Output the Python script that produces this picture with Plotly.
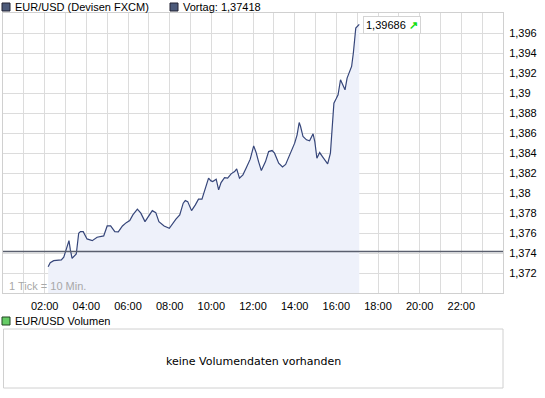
import plotly.graph_objects as go

# ---------------- data ----------------
base_date = "2024-01-01"
times = ["02:10", "02:16", "02:26", "02:48", "02:55", "03:02", "03:10", "03:14", "03:19", "03:31",
         "03:38", "03:43", "03:51", "04:02", "04:17", "04:31", "04:50", "05:00", "05:10", "05:22",
         "05:32", "05:44", "05:55", "06:05", "06:14", "06:27", "06:37", "06:49", "07:01", "07:10",
         "07:20", "07:29", "07:44", "07:59", "08:18", "08:29", "08:39", "08:45", "08:52", "09:03",
         "09:14", "09:23", "09:33", "09:42", "09:52", "09:59", "10:04", "10:14", "10:21", "10:28",
         "10:38", "10:47", "10:57", "11:07", "11:13", "11:21", "11:31", "11:40", "11:52", "12:02",
         "12:09", "12:16", "12:24", "12:36", "12:45", "12:55", "13:02", "13:14", "13:25", "13:34",
         "13:46", "14:00", "14:07", "14:13", "14:17", "14:24", "14:34", "14:43", "14:53", "14:58",
         "15:04", "15:12", "15:20", "15:35", "15:43", "15:48", "15:53", "15:59", "16:05", "16:12",
         "16:18", "16:25", "16:31", "16:39", "16:44", "16:49", "16:56", "17:06"]
prices = [1.37266, 1.37306, 1.37326, 1.37333, 1.37360, 1.37450, 1.37526, 1.37433, 1.37350, 1.37393,
          1.37600, 1.37616, 1.37616, 1.37543, 1.37526, 1.37560, 1.37573, 1.37673, 1.37673, 1.37616,
          1.37613, 1.37673, 1.37706, 1.37726, 1.37783, 1.37840, 1.37800, 1.37716, 1.37783, 1.37826,
          1.37806, 1.37716, 1.37673, 1.37650, 1.37740, 1.37783, 1.37900, 1.37926, 1.37916, 1.37826,
          1.37883, 1.37940, 1.37940, 1.38033, 1.38150, 1.38123, 1.38116, 1.38140, 1.38033, 1.38106,
          1.38156, 1.38150, 1.38193, 1.38216, 1.38243, 1.38150, 1.38183, 1.38250, 1.38340, 1.38473,
          1.38406, 1.38316, 1.38226, 1.38316, 1.38416, 1.38426, 1.38400, 1.38300, 1.38263, 1.38288,
          1.38383, 1.38500, 1.38583, 1.38706, 1.38666, 1.38566, 1.38533, 1.38523, 1.38593, 1.38516,
          1.38350, 1.38406, 1.38366, 1.38293, 1.38400, 1.38650, 1.38900, 1.38940, 1.38983, 1.39133,
          1.39093, 1.39033, 1.39150, 1.39223, 1.39266, 1.39400, 1.39650, 1.39686]
previous_close = 1.37418
last_label = "1,39686"

x_tick_labels = ["02:00", "04:00", "06:00", "08:00", "10:00", "12:00",
                 "14:00", "16:00", "18:00", "20:00", "22:00"]
y_tick_values = [1.372, 1.374, 1.376, 1.378, 1.380, 1.382, 1.384,
                 1.386, 1.388, 1.390, 1.392, 1.394, 1.396]
y_tick_labels = ["1,372", "1,374", "1,376", "1,378", "1,38", "1,382", "1,384",
                 "1,386", "1,388", "1,39", "1,392", "1,394", "1,396"]
y_range = [1.370, 1.398]

legend_main = "EUR/USD (Devisen FXCM)"
legend_prev = "Vortag: 1,37418"
legend_vol = "EUR/USD Volumen"
no_volume_text = "keine Volumendaten vorhanden"
tick_note = "1 Tick = 10 Min."

# ---------------- layout helpers ----------------
W, H = 545, 398
ML, MR, MT, MB = 3, 42, 13, 10
PW, PH = W - ML - MR, H - MT - MB


def px(xp):
    return (xp - ML) / PW


def py(yp):
    return (H - MB - yp) / PH


FONT = "Liberation Sans, Arial, sans-serif"
GRID = "#dcdcdc"
BORDER = "#d0d0d0"
LINE = "#36467a"

x_vals = [f"{base_date} {t}" for t in times]

fig = go.Figure()
fig.add_trace(go.Scatter(
    x=x_vals, y=prices, mode="lines",
    line=dict(color=LINE, width=1.2),
    fill="tozeroy", fillcolor="#eef1fa",
    hoverinfo="skip", showlegend=False,
))

fig.update_layout(
    width=W, height=H,
    margin=dict(l=ML, r=MR, t=MT, b=MB, pad=0, autoexpand=False),
    paper_bgcolor="white", plot_bgcolor="white",
    font=dict(family=FONT, size=11, color="#000000"),
    showlegend=False,
    xaxis=dict(
        type="date",
        range=[f"{base_date} 00:00", "2024-01-02 00:00"],
        tickvals=[f"{base_date} {t}" for t in x_tick_labels],
        ticktext=x_tick_labels,
        showgrid=True, gridcolor=GRID, gridwidth=1,
        minor=dict(dtick=3600000, tick0=f"{base_date} 00:00", showgrid=True,
                   gridcolor=GRID, gridwidth=1, ticks=""),
        showline=True, linecolor=BORDER, linewidth=1, mirror=True,
        ticks="", ticklabelstandoff=2,
        tickfont=dict(size=11, color="#000000"),
        zeroline=False, fixedrange=True, automargin=False,
        anchor="y",
    ),
    yaxis=dict(
        domain=[py(293.3), 1],
        range=y_range,
        side="right",
        tickvals=y_tick_values, ticktext=y_tick_labels,
        showgrid=True, gridcolor=GRID, gridwidth=1,
        showline=True, linecolor=BORDER, linewidth=1, mirror=True,
        ticks="", ticklabelstandoff=3,
        tickfont=dict(size=11, color="#000000"),
        zeroline=False, fixedrange=True, automargin=False,
    ),
)

shapes = []
# previous close line
shapes.append(dict(type="line", xref="x domain", yref="y", x0=0, x1=1,
                   y0=previous_close, y1=previous_close,
                   line=dict(color="#5a5f6e", width=1.5)))
# legend squares
shapes.append(dict(type="rect", xref="paper", yref="paper",
                   x0=px(2), x1=px(10), y0=py(11), y1=py(3),
                   fillcolor="#4c5a7a", line=dict(color="#222233", width=1)))
shapes.append(dict(type="rect", xref="paper", yref="paper",
                   x0=px(170), x1=px(178), y0=py(11), y1=py(3),
                   fillcolor="#4c5a7a", line=dict(color="#222233", width=1)))
shapes.append(dict(type="rect", xref="paper", yref="paper",
                   x0=px(2), x1=px(10), y0=py(325), y1=py(317),
                   fillcolor="#66cc66", line=dict(color="#224422", width=1)))
# volume box
shapes.append(dict(type="rect", xref="paper", yref="paper",
                   x0=px(3.5), x1=px(503), y0=py(388), y1=py(329),
                   fillcolor="white", line=dict(color=BORDER, width=1)))
fig.update_layout(shapes=shapes)

ann = []
ann.append(dict(xref="paper", yref="paper", x=px(13), y=py(7), xanchor="left", yanchor="middle",
                text=legend_main, showarrow=False, font=dict(size=11, color="#000000")))
ann.append(dict(xref="paper", yref="paper", x=px(181), y=py(7), xanchor="left", yanchor="middle",
                text=legend_prev, showarrow=False, font=dict(size=11, color="#000000")))
ann.append(dict(xref="paper", yref="paper", x=px(13), y=py(321), xanchor="left", yanchor="middle",
                text=legend_vol, showarrow=False, font=dict(size=11, color="#000000")))
ann.append(dict(xref="paper", yref="paper", x=px(253), y=py(361), xanchor="center", yanchor="middle",
                text=no_volume_text, showarrow=False,
                font=dict(family="DejaVu Sans, Verdana, sans-serif", size=11, color="#000000")))
ann.append(dict(xref="paper", yref="paper", x=px(7), y=py(286), xanchor="left", yanchor="middle",
                text=tick_note, showarrow=False, font=dict(size=11, color="#a8a8a8")))
ann.append(dict(xref="x", yref="y", x=x_vals[-1], y=prices[-1], xanchor="left", yanchor="middle",
                xshift=4, yshift=-1,
                text=last_label + " <b><span style='color:#11dd11'>\u2197</span></b>",
                showarrow=False, bgcolor="white", bordercolor="#d4d4d4", borderwidth=1, borderpad=2,
                font=dict(size=11, color="#000000")))
fig.update_layout(annotations=ann)

fig.write_html("out.html", config={"displayModeBar": False},
               post_script="document.body.style.margin='0';document.body.style.padding='0';")
